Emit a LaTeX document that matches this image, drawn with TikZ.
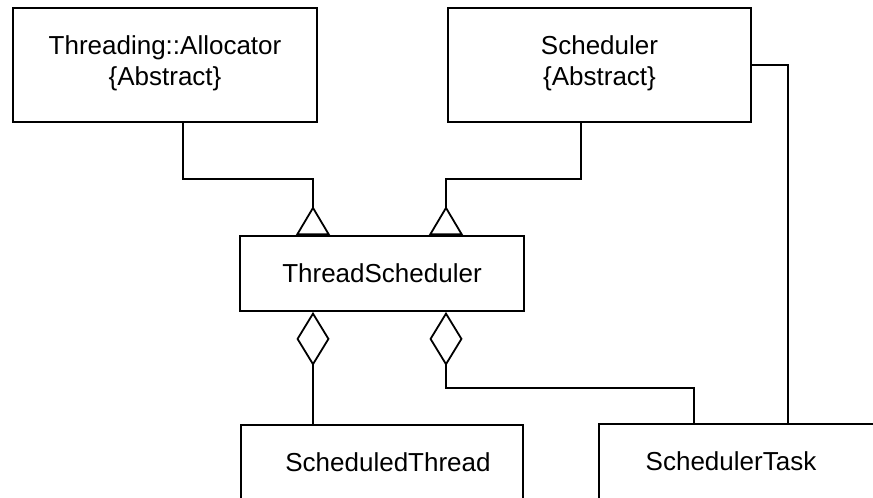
\documentclass[tikz,border=0pt]{standalone}
\usepackage{fontspec}
\setmainfont{Liberation Sans}
\usetikzlibrary{arrows.meta, positioning, calc}

\begin{document}
\begin{tikzpicture}[
      x=1pt, y=-1pt,
      classbox/.style={draw, line width=1.8pt, minimum width=#1,
        inner sep=0pt, align=center,
        font=\fontsize{26}{31}\selectfont},
      link/.style={draw, line width=1.8pt},
      inherit/.style={link, {Triangle[open, reversed, length=29pt, width=34pt]}-},
      holds/.style={link, {Diamond[open, length=54pt, width=33pt]}-},
      >=Latex
    ]
      \clip (0,0) rectangle (873,498);
      \useasboundingbox (0,0) rectangle (873,498);
      \node[classbox=304pt, minimum height=114pt] (alloc) at (165,65)
        {Threading::Allocator\\\{Abstract\}\\[-22pt]};
      \node[classbox=303pt, minimum height=114pt] (sched) at (599.5,65)
        {Scheduler\\\{Abstract\}\\[-22pt]};
      \node[classbox=284pt, minimum height=75pt] (tsched) at (382,273.5)
        {ThreadScheduler};
      \node[classbox=282pt, minimum height=75pt] (sthread) at (382,462.5)
        {\hspace*{12pt}ScheduledThread};
      \node[classbox=282pt, minimum height=75pt] (stask) at (740,461.5)
        {SchedulerTask\hspace*{18pt}};

      \draw[inherit] ([xshift=-69pt]tsched.north) -- ++(0,-56)
        -| ([xshift=18pt]alloc.south);
      \draw[inherit] ([xshift=64pt]tsched.north) -- ++(0,-56)
        -| ([xshift=-18.5pt]sched.south);
      \draw[link] (sched.east) -| ([xshift=48pt]stask.north);
      \draw[holds] ([xshift=-69pt]tsched.south) -- ([xshift=-69pt]sthread.north);
      \draw[holds] ([xshift=64pt]tsched.south) -- ++(0,76)
        -| ([xshift=-46pt]stask.north);
    \end{tikzpicture}
\end{document}
